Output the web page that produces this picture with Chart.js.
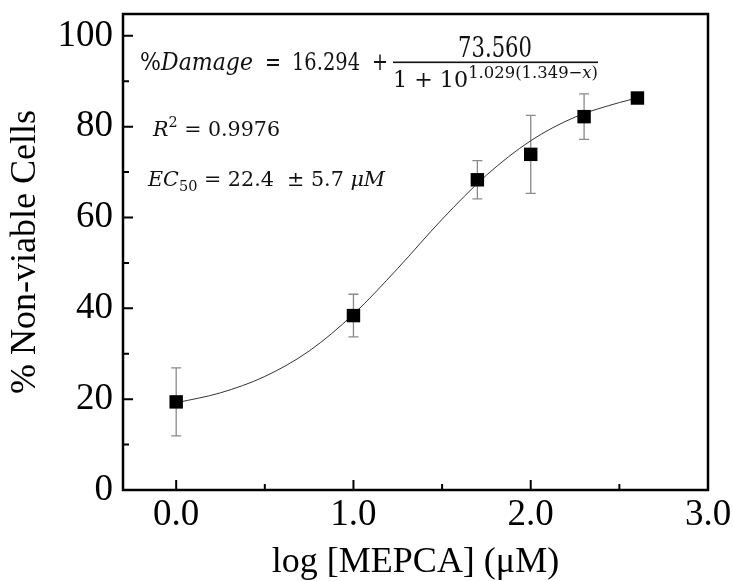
<!DOCTYPE html>
<html>
<head>
<meta charset="utf-8">
<script src="https://cdn.jsdelivr.net/npm/chart.js@4.4.1/dist/chart.umd.min.js"></script>
<style>
    html, body { margin: 0; padding: 0; background: #fff; }
    #wrap { width: 733px; height: 581px; }
</style>
</head>
<body>
<div id="wrap"><canvas id="doseChart" width="733" height="581"></canvas></div>
<script>
// measured points (log concentration vs % non-viable cells)
const doseX = [0, 1, 1.699, 2, 2.301, 2.602];
const damage = [19.4, 38.4, 68.3, 73.9, 82.2, 86.3];
const damageErr = [7.5, 4.7, 4.2, 8.6, 5.0, 0.8];

// fitted curve
const curveX = [0, 0.25, 0.5, 0.75, 1.0, 1.25, 1.5, 1.75, 2.0, 2.25, 2.5, 2.6];
const curveY = [19.2, 21.4, 25.0, 30.6, 38.7, 48.8, 59.6, 69.3, 76.9, 82.1, 85.3, 86.3];

// axes
const xTicks = [0, 1, 2, 3];
const xMinorTicks = [0.5, 1.5, 2.5];
const yTicks = [0, 20, 40, 60, 80, 100];
const yMinorTicks = [10, 30, 50, 70, 90];

const serif = '"Liberation Serif", "Times New Roman", serif';
const mathFont = '"DejaVu Serif", serif';

// draws a run of text pieces squeezed/stretched to span x0..x1
function textRun(ctx, parts, x0, x1, baseline) {
    let total = 0;
    parts.forEach(function(p) {
        ctx.font = (p[2] ? 'italic ' : '') + p[1] + 'px ' + mathFont;
        total += ctx.measureText(p[0]).width;
    });
    ctx.save();
    ctx.translate(x0, baseline);
    ctx.scale((x1 - x0) / total, 1);
    let x = 0;
    parts.forEach(function(p) {
        ctx.font = (p[2] ? 'italic ' : '') + p[1] + 'px ' + mathFont;
        ctx.fillText(p[0], x, p[3] || 0);
        x += ctx.measureText(p[0]).width;
    });
    ctx.restore();
}

const boxPlugin = {
    id: 'boxPlugin',
    beforeDatasetsDraw(chart) {
        const ctx = chart.ctx;
        const xs = chart.scales.x;
        const ys = chart.scales.y;
        ctx.save();
        ctx.strokeStyle = '#8a8a8a';
        ctx.lineWidth = 1.3;
        doseX.forEach(function(x, i) {
            const px = xs.getPixelForValue(x);
            const top = ys.getPixelForValue(damage[i] + damageErr[i]);
            const bot = ys.getPixelForValue(damage[i] - damageErr[i]);
            ctx.beginPath();
            ctx.moveTo(px, top); ctx.lineTo(px, bot);
            ctx.moveTo(px - 5, top); ctx.lineTo(px + 5, top);
            ctx.moveTo(px - 5, bot); ctx.lineTo(px + 5, bot);
            ctx.stroke();
        });
        ctx.restore();
    },
    afterDraw(chart) {
        const ctx = chart.ctx;
        const area = chart.chartArea;
        const xs = chart.scales.x;
        const ys = chart.scales.y;
        ctx.save();
        // frame
        ctx.strokeStyle = '#000';
        ctx.lineWidth = 2.5;
        ctx.strokeRect(area.left, area.top, area.right - area.left, area.bottom - area.top);
        // inside ticks
        ctx.lineWidth = 2;
        ctx.beginPath();
        xTicks.forEach(function(v) {
            if (v >= 3) return;
            const px = xs.getPixelForValue(v);
            ctx.moveTo(px, area.bottom); ctx.lineTo(px, area.bottom - 10);
        });
        xMinorTicks.forEach(function(v) {
            const px = xs.getPixelForValue(v);
            ctx.moveTo(px, area.bottom); ctx.lineTo(px, area.bottom - 6);
        });
        yTicks.forEach(function(v) {
            const py = ys.getPixelForValue(v);
            ctx.moveTo(area.left, py); ctx.lineTo(area.left + 10, py);
        });
        yMinorTicks.forEach(function(v) {
            const py = ys.getPixelForValue(v);
            ctx.moveTo(area.left, py); ctx.lineTo(area.left + 6, py);
        });
        ctx.stroke();

        // annotation text, placed relative to the plot frame
        const L = area.left, T = area.top;
        ctx.fillStyle = '#111';
        ctx.textBaseline = 'alphabetic';
        textRun(ctx, [['%', 25, false], ['Damage', 25, true]], L + 17, L + 130, T + 56);
        textRun(ctx, [['=', 25, false]], L + 142, L + 158, T + 56);
        textRun(ctx, [['16.294', 25, false]], L + 169, L + 237, T + 56);
        textRun(ctx, [['+', 25, false]], L + 249, L + 265, T + 56);
        textRun(ctx, [['73.560', 27, false]], L + 335, L + 409, T + 43);
        ctx.fillRect(L + 270, T + 47.5, 205, 1.6);
        textRun(ctx, [
            ['1 + 10', 23, false, 0],
            ['1.029(1.349\u2212', 17, false, -9],
            ['x', 17, true, -9],
            [')', 17, false, -9]
        ], L + 270, L + 475, T + 73);
        textRun(ctx, [
            ['R', 20, true, 0],
            ['2', 14, false, -9],
            [' = 0.9976', 20, false, 0]
        ], L + 30, L + 157, T + 122);
        textRun(ctx, [
            ['EC', 20, true, 0],
            ['50', 14, false, 5],
            [' = 22.4  \u00b1 5.7 ', 20, false, 0],
            ['\u03bcM', 20, true, 0]
        ], L + 25, L + 262, T + 172);
        ctx.restore();
    }
};

document.addEventListener('DOMContentLoaded', function() {
    const ctx = document.getElementById('doseChart').getContext('2d');
    new Chart(ctx, {
        type: 'scatter',
        data: {
            datasets: [
                {
                    label: 'Measured',
                    data: doseX.map(function(x, i) { return { x: x, y: damage[i] }; }),
                    pointStyle: 'rect',
                    pointRadius: 9.5,
                    pointHoverRadius: 9.5,
                    backgroundColor: '#000',
                    borderColor: '#000',
                    borderWidth: 0,
                    showLine: false
                },
                {
                    label: 'Fit',
                    data: curveX.map(function(x, i) { return { x: x, y: curveY[i] }; }),
                    showLine: true,
                    borderColor: '#333',
                    borderWidth: 1,
                    pointRadius: 0,
                    cubicInterpolationMode: 'monotone',
                    fill: false
                }
            ]
        },
        options: {
            responsive: false,
            animation: false,
            layout: { padding: { top: 14, right: 25, left: 0, bottom: 0 } },
            plugins: {
                legend: { display: false },
                tooltip: { enabled: false }
            },
            scales: {
                x: {
                    type: 'linear',
                    min: -0.3,
                    max: 3.0,
                    afterBuildTicks: function(scale) {
                        scale.ticks = xTicks.map(function(v) { return { value: v }; });
                    },
                    afterFit: function(scale) {
                        scale.height = 91;
                        scale.paddingLeft = 0;
                        scale.paddingRight = 0;
                    },
                    grid: { display: false },
                    border: { display: false },
                    ticks: {
                        color: '#000',
                        padding: -5,
                        maxRotation: 0,
                        font: { family: serif, size: 37 },
                        callback: function(v) { return Number(v).toFixed(1); }
                    },
                    title: {
                        display: true,
                        text: 'log [MEPCA] (\u03bcM)',
                        color: '#000',
                        padding: { top: 0, bottom: -3 },
                        font: { family: serif, size: 36 }
                    }
                },
                y: {
                    min: 0,
                    max: 104.8,
                    afterBuildTicks: function(scale) {
                        scale.ticks = yTicks.map(function(v) { return { value: v }; });
                    },
                    afterFit: function(scale) {
                        scale.width = 123;
                        scale.paddingTop = 0;
                        scale.paddingBottom = 0;
                    },
                    grid: { display: false },
                    border: { display: false },
                    ticks: {
                        color: '#000',
                        padding: 2,
                        font: { family: serif, size: 37 }
                    },
                    title: {
                        display: true,
                        text: '% Non-viable Cells',
                        color: '#000',
                        padding: { top: 4, bottom: 0 },
                        font: { family: serif, size: 36 }
                    }
                }
            }
        },
        plugins: [boxPlugin]
    });
});
</script>
</body>
</html>
